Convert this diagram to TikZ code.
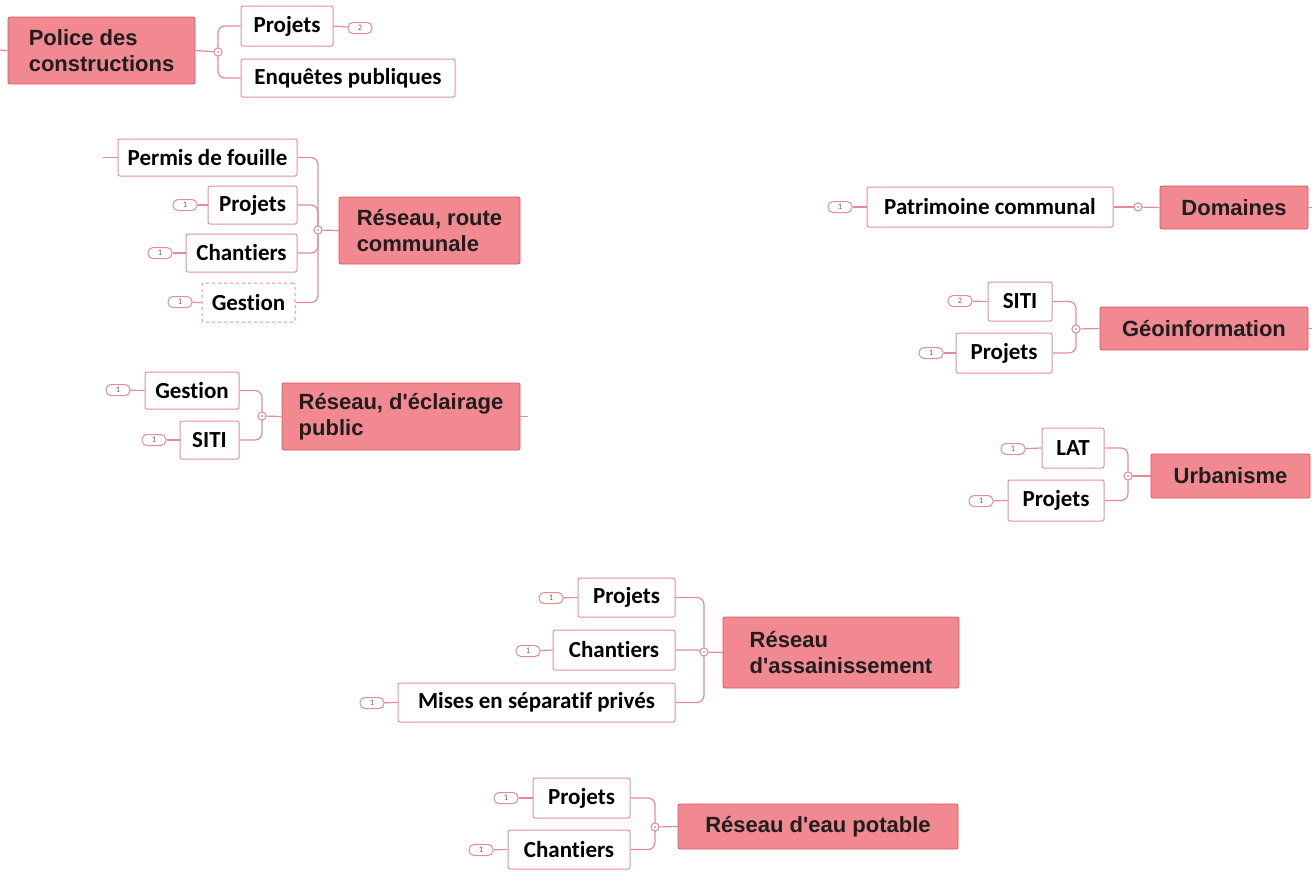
\documentclass[tikz,border=0pt]{standalone}
\usepackage{fontspec}
\setmainfont{Carlito}[Ligatures={NoCommon}]
\setsansfont{Liberation Sans}
\definecolor{mainfill}{RGB}{242,136,144}
\definecolor{mainline}{RGB}{214,86,96}
\definecolor{childline}{RGB}{228,145,156}
\definecolor{conncol}{RGB}{226,140,150}
\definecolor{txt}{RGB}{30,30,30}
\newcommand{\apos}{\textquotesingle}
\tikzset{
  mainbox/.style={draw=mainline, fill=mainfill, rounded corners=2, line width=0.8,
    font=\sffamily\bfseries\fontsize{22}{26}\selectfont, text=txt, align=left, inner sep=0},
  childbox/.style={draw=childline, fill=white, rounded corners=2, line width=1,
    font=\bfseries\fontsize{23}{27}\selectfont, text=black, inner sep=0},
  badge/.style={draw=conncol, rounded corners=5, minimum width=24, minimum height=11,
    inner sep=0, line width=1, font=\fontsize{8.5}{8.5}\selectfont, text=conncol!60!black},
  junc/.style={circle, draw=conncol, fill=white, minimum size=8, inner sep=0, line width=0.9},
  conn/.style={draw=conncol, line width=1.2},
  brk/.style={draw=conncol, line width=1.2, rounded corners=7}
}
\begin{document}
\begin{tikzpicture}[x=1pt,y=-1pt]
\useasboundingbox (0,0) rectangle (1312,871);
% ---------- Police des constructions
\node[mainbox, minimum width=187, minimum height=67] (pc) at (101.5,50.5) {Police des\\constructions};
\node[junc] (j1) at (218,52) {};
\node[childbox, minimum width=92, minimum height=40] (pc1) at (287,26) {Projets};
\node[childbox, minimum width=214, minimum height=38] (pc2) at (348,78) {Enquêtes publiques};
\node[badge] (b1) at (360,28) {2};
\coordinate (t1) at (0,50);
\draw[conn] (t1) -- (pc.west);
\draw[conn] (pc.east) -- (j1);
\draw[brk] (pc1.west) -| (j1.center);
\draw[brk] (pc2.west) -| (j1.center);
\draw[conn] (pc1.east) -- (b1);
% ---------- Réseau, route communale
\node[mainbox, minimum width=181, minimum height=67] (rr) at (429.5,230.5) {Réseau, route\\communale};
\node[junc] (j2) at (318,230) {};
\node[childbox, minimum width=179, minimum height=37] (pf) at (207.5,157.5) {Permis de fouille};
\node[childbox, minimum width=89, minimum height=38] (rp) at (252.5,205) {Projets};
\node[childbox, minimum width=111, minimum height=38] (rc) at (241.5,253) {Chantiers};
\node[childbox, minimum width=93, minimum height=39, dashed] (rg) at (248.5,302.5) {Gestion};
\node[badge] (b2) at (185,205) {1};
\node[badge] (b3) at (160,253) {1};
\node[badge] (b4) at (180,302) {1};
\coordinate (t2) at (103,157.5);
\draw[conn] (rr.west) -- (j2);
\draw[brk] (pf.east) -| (j2.center);
\draw[brk] (rp.east) -| (j2.center);
\draw[brk] (rc.east) -| (j2.center);
\draw[brk] (rg.east) -| (j2.center);
\draw[conn] (b2) -- (rp.west);
\draw[conn] (b3) -- (rc.west);
\draw[conn] (b4) -- (rg.west);
\draw[conn] (t2) -- (pf.west);
% ---------- Réseau, d'éclairage public
\node[mainbox, minimum width=238, minimum height=67] (ep) at (401,416.5) {Réseau, d\apos éclairage\\public};
\node[junc] (j3) at (262,416) {};
\node[childbox, minimum width=94, minimum height=37] (eg) at (192,390.5) {Gestion};
\node[childbox, minimum width=59, minimum height=38] (es) at (209.5,440) {SITI};
\node[badge] (b5) at (118,390) {1};
\node[badge] (b6) at (154,440) {1};
\coordinate (t3) at (528,416.5);
\draw[conn] (ep.east) -- (t3);
\draw[conn] (ep.west) -- (j3);
\draw[brk] (eg.east) -| (j3.center);
\draw[brk] (es.east) -| (j3.center);
\draw[conn] (b5) -- (eg.west);
\draw[conn] (b6) -- (es.west);
% ---------- Domaines
\node[mainbox, minimum width=148, minimum height=43] (dm) at (1234,207.5) {Domaines};
\node[junc] (j4) at (1138,207) {};
\node[childbox, minimum width=246, minimum height=40] (dp) at (990,207) {Patrimoine communal};
\node[badge] (b7) at (840,207) {1};
\coordinate (t4) at (1312,207.5);
\draw[conn] (dm.east) -- (t4);
\draw[conn] (dm.west) -- (j4);
\draw[conn] (dp.east) -- (j4);
\draw[conn] (b7) -- (dp.west);
% ---------- Géoinformation
\node[mainbox, minimum width=208, minimum height=43] (ge) at (1204,328.5) {Géoinformation};
\node[junc] (j5) at (1076,329) {};
\node[childbox, minimum width=64, minimum height=39] (gs) at (1020,301.5) {SITI};
\node[childbox, minimum width=96, minimum height=40] (gp) at (1004,353) {Projets};
\node[badge] (b8) at (960,301) {2};
\node[badge] (b9) at (931,353) {1};
\coordinate (t5) at (1312,328.5);
\draw[conn] (ge.east) -- (t5);
\draw[conn] (ge.west) -- (j5);
\draw[brk] (gs.east) -| (j5.center);
\draw[brk] (gp.east) -| (j5.center);
\draw[conn] (b8) -- (gs.west);
\draw[conn] (b9) -- (gp.west);
% ---------- Urbanisme
\node[mainbox, minimum width=159, minimum height=44] (ur) at (1230.5,476) {Urbanisme};
\node[junc] (j6) at (1128,476) {};
\node[childbox, minimum width=62, minimum height=40] (ul) at (1073,448) {LAT};
\node[childbox, minimum width=96, minimum height=41] (up) at (1056,500.5) {Projets};
\node[badge] (b10) at (1013,449) {1};
\node[badge] (b11) at (981,501) {1};
\draw[conn] (ur.west) -- (j6);
\draw[brk] (ul.east) -| (j6.center);
\draw[brk] (up.east) -| (j6.center);
\draw[conn] (b10) -- (ul.west);
\draw[conn] (b11) -- (up.west);
% ---------- Réseau d'assainissement
\node[mainbox, minimum width=236, minimum height=71] (as) at (841,652.5) {Réseau\\d\apos assainissement};
\node[junc] (j7) at (704,652) {};
\node[childbox, minimum width=97, minimum height=39] (ap) at (626.5,597.5) {Projets};
\node[childbox, minimum width=122, minimum height=40] (ac) at (614,650) {Chantiers};
\node[childbox, minimum width=277, minimum height=39] (am) at (536.5,702.5) {Mises en séparatif privés};
\node[badge] (b12) at (551,598) {1};
\node[badge] (b13) at (528,651) {1};
\node[badge] (b14) at (372,703) {1};
\draw[conn] (as.west) -- (j7);
\draw[brk] (ap.east) -| (j7.center);
\draw[brk] (ac.east) -| (j7.center);
\draw[brk] (am.east) -| (j7.center);
\draw[conn] (b12) -- (ap.west);
\draw[conn] (b13) -- (ac.west);
\draw[conn] (b14) -- (am.west);
% ---------- Réseau d'eau potable
\node[mainbox, minimum width=280, minimum height=45] (ea) at (818,826.5) {Réseau d\apos eau potable};
\node[junc] (j8) at (655,827) {};
\node[childbox, minimum width=97, minimum height=40] (eap) at (581.5,798) {Projets};
\node[childbox, minimum width=122, minimum height=39] (eac) at (569,849.5) {Chantiers};
\node[badge] (b15) at (506,798) {1};
\node[badge] (b16) at (481,850) {1};
\draw[conn] (ea.west) -- (j8);
\draw[brk] (eap.east) -| (j8.center);
\draw[brk] (eac.east) -| (j8.center);
\draw[conn] (b15) -- (eap.west);
\draw[conn] (b16) -- (eac.west);
% junction dots on top
\foreach \j in {j1,j2,j3,j4,j5,j6,j7,j8}{
  \node[junc] at (\j.center) {};
  \fill[conncol] (\j.center) circle (1.2);
}
\end{tikzpicture}
\end{document}
